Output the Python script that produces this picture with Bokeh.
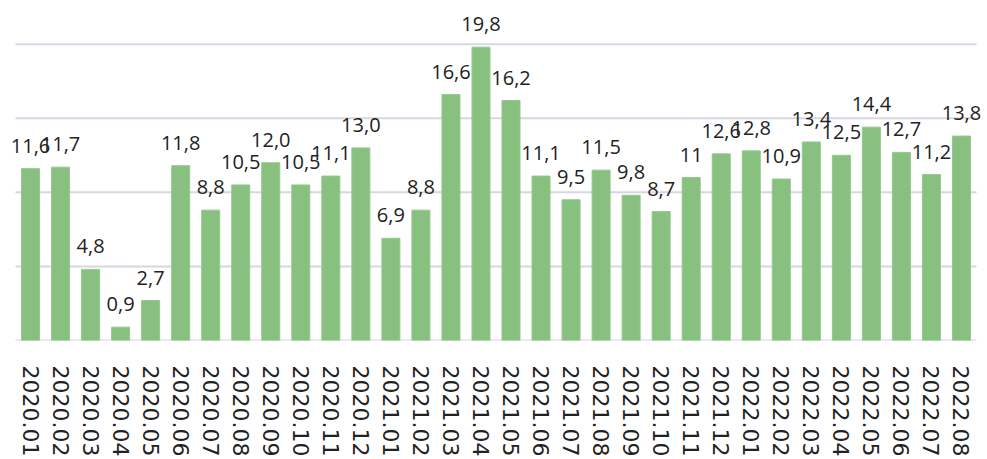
from bokeh.plotting import figure
from bokeh.models import ColumnDataSource, LabelSet, FactorRange
from bokeh.core.properties import value
from bokeh.embed import file_html
from bokeh.resources import INLINE

months = ["2020.01", "2020.02", "2020.03", "2020.04", "2020.05", "2020.06", "2020.07", "2020.08",
          "2020.09", "2020.10", "2020.11", "2020.12", "2021.01", "2021.02", "2021.03", "2021.04",
          "2021.05", "2021.06", "2021.07", "2021.08", "2021.09", "2021.10", "2021.11", "2021.12",
          "2022.01", "2022.02", "2022.03", "2022.04", "2022.05", "2022.06", "2022.07", "2022.08"]
values = [11.6, 11.7, 4.8, 0.9, 2.7, 11.8, 8.8, 10.5, 12.0, 10.5, 11.1, 13.0, 6.9, 8.8, 16.6, 19.8,
          16.2, 11.1, 9.5, 11.5, 9.8, 8.7, 11.0, 12.6, 12.8, 10.9, 13.4, 12.5, 14.4, 12.7, 11.2, 13.8]
labels = ["11,6", "11,7", "4,8", "0,9", "2,7", "11,8", "8,8", "10,5", "12,0", "10,5", "11,1", "13,0",
          "6,9", "8,8", "16,6", "19,8", "16,2", "11,1", "9,5", "11,5", "9,8", "8,7", "11", "12,6",
          "12,8", "10,9", "13,4", "12,5", "14,4", "12,7", "11,2", "13,8"]
grid_ticks = [0, 5, 10, 15, 20]

src = ColumnDataSource(dict(m=months, v=values, lab=labels))

xr = FactorRange(factors=months, range_padding=0.333, range_padding_units="absolute")
p = figure(x_range=xr, y_range=(0, 22.95), width=987, height=459,
           output_backend="svg", toolbar_location=None,
           min_border_top=0, min_border_left=5, min_border_right=1, min_border_bottom=117)

# horizontal gridlines spanning from first to last category slot
n = len(grid_ticks)
p.segment(x0=[(months[0], -0.5)] * n, x1=[(months[-1], 0.5)] * n, y0=grid_ticks, y1=grid_ticks,
          line_color="#d8d6e4", line_width=2)

p.vbar(x="m", top="v", width=0.6, source=src, fill_color="#88c080", line_color="#94c98b", line_width=1)
p.add_layout(LabelSet(x="m", y="v", text="lab", source=src, text_align="center",
                      text_baseline="bottom", y_offset=16, text_font=value("Open Sans"),
                      text_font_size="20px", text_color="#222222"))

p.outline_line_color = None
p.xgrid.grid_line_color = None
p.ygrid.grid_line_color = None
p.yaxis.visible = False
p.xaxis.axis_line_color = None
p.xaxis.major_tick_line_color = None
p.xaxis.major_label_orientation = "vertical"
p.xaxis.major_label_text_font = "DejaVu Sans"
p.xaxis.major_label_text_font_size = "22px"
p.xaxis.major_label_text_color = "#222222"
p.xaxis.major_label_standoff = 19
p.background_fill_color = "white"
p.border_fill_color = "white"

open("out.html", "w").write(file_html(p, INLINE))
